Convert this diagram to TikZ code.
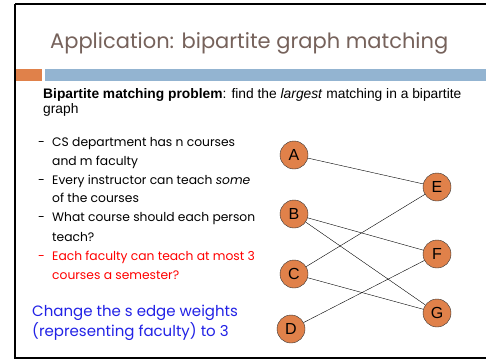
\documentclass[tikz,border=0pt]{standalone}
\usepackage{fontspec}
\setmainfont{Poppins}
\newfontfamily\arialfont{Liberation Sans}
\usetikzlibrary{calc}
\definecolor{slideorange}{HTML}{E0814A}
\definecolor{slideblue}{HTML}{93B4D1}
\definecolor{titlegray}{HTML}{76625B}
\definecolor{noteblue}{HTML}{2222E6}
\tikzstyle{vert_node} = [circle, minimum size=28pt, inner sep=0pt, text centered, draw=black!80, fill=slideorange, font=\arialfont\fontsize{16}{16}\selectfont]
\tikzstyle{line_text} = [anchor=base west, inner sep=0pt, font=\fontsize{12.3}{12.3}\selectfont]
\tikzstyle{edge} = [thin, black]

\begin{document}
\begin{tikzpicture}[x=1pt, y=-1pt]
        \useasboundingbox (0,0) rectangle (486,359);
        \fill[white] (0,0) rectangle (486,359);
        \draw[line width=2pt] (15,3.5) -- (495,3.5);
        \draw[line width=2pt] (15,3.5) -- (15,357.5) -- (495,357.5);

        % bars under the title
        \fill[slideorange] (16,69) rectangle (42,81);
        \fill[slideblue] (45,69) rectangle (486,81);

        \node(title) [anchor=base west, inner sep=0pt, text=titlegray, font=\fontsize{21}{21}\selectfont] at (50,48) {Application: bipartite graph matching};

        \node(prob1) [anchor=base west, inner sep=0pt, font=\arialfont\fontsize{13.8}{13.8}\selectfont] at (43,98) {\textbf{Bipartite matching problem}: find the \textit{largest} matching in a bipartite};
        \node(prob2) [anchor=base west, inner sep=0pt, font=\arialfont\fontsize{13.8}{13.8}\selectfont] at (43,113) {graph};

        % bullet list
        \node(dash1) [line_text] at (38,146) {-};
        \node(item1a) [line_text] at (52,146) {CS department has n courses};
        \node(item1b) [line_text] at (52,165) {and m faculty};
        \node(dash2) [line_text] at (38,184) {-};
        \node(item2a) [line_text] at (52,184) {Every instructor can teach \textit{some}};
        \node(item2b) [line_text] at (52,202) {of the courses};
        \node(dash3) [line_text] at (38,221) {-};
        \node(item3a) [line_text] at (52,221) {What course should each person};
        \node(item3b) [line_text] at (52,241) {teach?};
        \node(dash4) [line_text, text=red] at (38,260) {-};
        \node(item4a) [line_text, text=red] at (52,260) {Each faculty can teach at most 3};
        \node(item4b) [line_text, text=red] at (52,279) {courses a semester?};

        \node(note1) [anchor=base west, inner sep=0pt, text=noteblue, font=\fontsize{15}{15}\selectfont] at (32,316) {Change the s edge weights};
        \node(note2) [anchor=base west, inner sep=0pt, text=noteblue, font=\fontsize{15}{15}\selectfont] at (32,336) {(representing faculty) to 3};

        % the graph
        \node(vA) [vert_node] at (294,155) {A};
        \node(vB) [vert_node] at (294,214) {B};
        \node(vC) [vert_node] at (294,274) {C};
        \node(vD) [vert_node] at (291,329) {D};
        \node(vE) [vert_node] at (437,187) {E};
        \node(vF) [vert_node] at (437,254) {F};
        \node(vG) [vert_node] at (437,313) {G};

        \draw[edge] (vA) -- (vE);
        \draw[edge] (vB) -- (vF);
        \draw[edge] (vB) -- (vG);
        \draw[edge] (vC) -- (vE);
        \draw[edge] (vC) -- (vG);
        \draw[edge] (vD) -- (vF);
\end{tikzpicture}
\end{document}
